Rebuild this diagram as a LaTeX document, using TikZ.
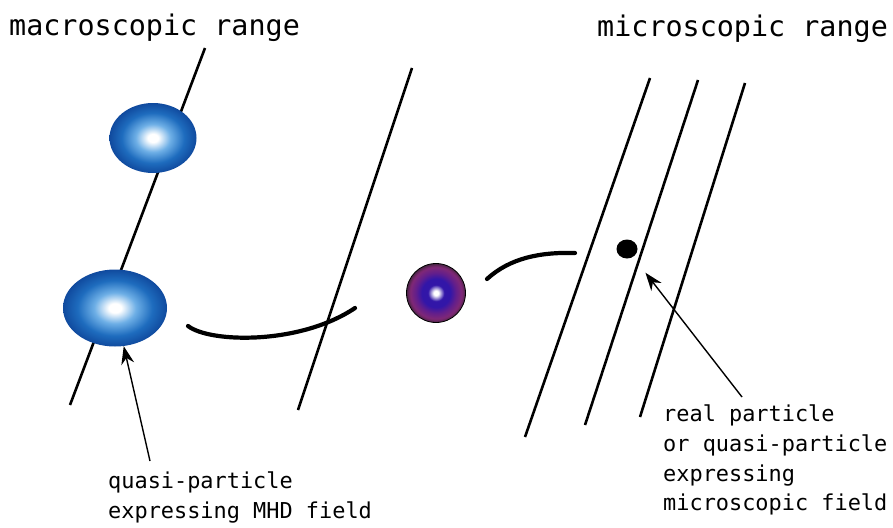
\documentclass[tikz,border=0pt]{standalone}
\usepackage{fontspec}
\setmonofont{DejaVu Sans Mono}
\usetikzlibrary{shapes.geometric,arrows.meta}
\definecolor{balldark}{RGB}{16,74,158}
\definecolor{ballblue}{RGB}{30,108,190}
\definecolor{ballmid}{RGB}{110,175,230}
\definecolor{qnavy}{RGB}{50,22,168}
\definecolor{qpurple}{RGB}{98,30,140}
\definecolor{qmagenta}{RGB}{128,40,118}
\definecolor{qedge}{RGB}{70,36,66}
\pgfdeclareradialshading{ballshade}{\pgfpoint{0bp}{0bp}}{color(0bp)=(white);color(3bp)=(white);color(10bp)=(ballmid);color(18bp)=(ballblue);color(25bp)=(balldark);color(50bp)=(balldark)}
\pgfdeclareradialshading{quasishade}{\pgfpoint{0bp}{0bp}}{color(0bp)=(white);color(2bp)=(white);color(7bp)=(qnavy);color(12bp)=(qnavy);color(17bp)=(qpurple);color(22bp)=(qmagenta);color(25bp)=(qedge);color(50bp)=(qedge)}
\tikzset{
  fieldline/.style={line width=2.6pt},
  orbit/.style={line width=4.2pt, line cap=round},
  pointer/.style={line width=1.4pt, -{Stealth[length=18pt,width=13pt]}},
  ball/.style={ellipse, inner sep=0pt, shading=ballshade},
  title/.style={anchor=base west, inner sep=0pt, font=\fontsize{28.4}{34}\selectfont\ttfamily},
  notetext/.style={anchor=north west, inner sep=0pt, align=left, font=\fontsize{21.9}{29.6}\selectfont\ttfamily}
}
\begin{document}
\begin{tikzpicture}[x=1pt,y=-1pt]
\useasboundingbox (0,0) rectangle (893,527);

\node[title] (macro) at (9,36) {macroscopic range};
\node[title] (micro) at (597,37) {microscopic range};

\draw[fieldline] (205,48) -- (70,405);
\draw[fieldline] (412,68) -- (298,410);
\draw[fieldline] (650,78) -- (525,437);
\draw[fieldline] (698,80) -- (585,425);
\draw[fieldline] (745,83) -- (640,417);

\node[ball, minimum width=87pt, minimum height=70pt] (ballT) at (153,138) {};
\node[ball, minimum width=104pt, minimum height=77pt] (ballB) at (115,308) {};
\node[circle, draw=black, line width=0.8pt, inner sep=0pt, minimum size=59pt, shading=quasishade] (quasi) at (436,293) {};
\node[ellipse, fill=black, inner sep=0pt, minimum width=21pt, minimum height=19pt] (real) at (627,249) {};

\draw[orbit] (188,326) .. controls (210,343) and (300,345) .. (355,308);
\draw[orbit] (487,279) .. controls (510,258) and (540,252) .. (575,253);

\node[notetext] (noteL) at (108,472) {quasi-particle\\expressing MHD field};
\node[notetext] (noteR) at (663,405) {real particle\\or quasi-particle\\expressing\\microscopic field};

\coordinate (tailL) at (150,461);
\coordinate (tailR) at (742,397);
\draw[pointer] (tailL) -- (ballB);
\draw[pointer, shorten >=20pt] (tailR) -- (real);
\end{tikzpicture}
\end{document}
